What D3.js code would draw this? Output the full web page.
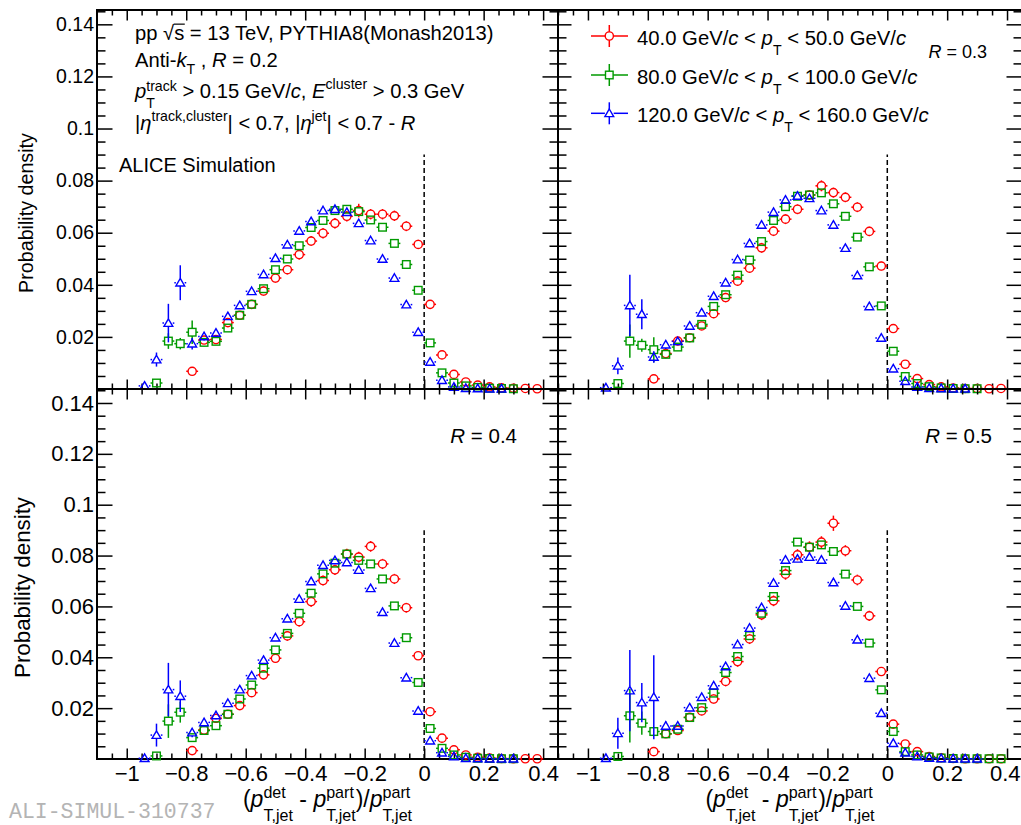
<!DOCTYPE html>
<html>
<head>
<meta charset="utf-8">
<script src="https://cdnjs.cloudflare.com/ajax/libs/d3/7.8.5/d3.min.js"></script>
<style>
  html, body { margin: 0; padding: 0; background: #fff; }
  svg { display: block; }
  text { font-family: "Liberation Sans", Arial, Helvetica, sans-serif; fill: #000; }
  text.fig-id { font-family: "Liberation Mono", "DejaVu Sans Mono", monospace; fill: #b4b4b4; }
</style>
</head>
<body>
<svg id="chart" width="1021" height="825"></svg>
<script>
// ---- binning of (pT,det - pT,part)/pT,part ----
const binCenters = [-0.98,-0.94,-0.90,-0.86,-0.82,-0.78,-0.74,-0.70,-0.66,-0.62,-0.58,-0.54,-0.50,-0.46,-0.42,-0.38,-0.34,-0.30,-0.26,-0.22,-0.18,-0.14,-0.10,-0.06,-0.02,0.02,0.06,0.10,0.14,0.18,0.22,0.26,0.30,0.34,0.38];
const binHalfWidth = 0.02;

// ---- axis ticks ----
const xMajorTicks = [-1, -0.8, -0.6, -0.4, -0.2, 0, 0.2, 0.4];
const xTickLabels = ["\u22121", "\u22120.8", "\u22120.6", "\u22120.4", "\u22120.2", "0", "0.2", "0.4"];
const yMajorTicks = [0.02, 0.04, 0.06, 0.08, 0.1, 0.12, 0.14];
const yTickLabels = ["0.02", "0.04", "0.06", "0.08", "0.1", "0.12", "0.14"];

// ---- probability densities, R = 0.2 ----
const pt40_R02 = [null,null,null,null,null,0.0068,0.0188,0.0190,0.0255,0.0283,0.0325,0.0376,0.0426,0.0458,0.0516,0.0568,0.0598,0.0636,0.0663,0.0685,0.0671,0.0671,0.0665,0.0625,0.0555,0.0325,0.0131,0.0056,0.0027,0.0015,0.0008,0.0005,0.0003,0.0002,0.0001];
const pt80_R02 = [null,null,0.0023,0.0184,0.0174,0.0218,0.0179,0.0183,0.0234,0.0283,0.0325,0.0385,0.0458,0.0499,0.0550,0.0620,0.0647,0.0685,0.0690,0.0681,0.0649,0.0621,0.0559,0.0478,0.0379,0.0177,0.0062,0.0023,0.0012,0.0006,0.0003,0.0002,0.0001,null,null];
const pt120_R02 = [null,0.0012,0.0113,0.0253,0.0408,0.0174,0.0202,0.0215,0.0279,0.0321,0.0375,0.0440,0.0502,0.0554,0.0607,0.0643,0.0685,0.0690,0.0679,0.0636,0.0570,0.0499,0.0426,0.0324,0.0218,0.0104,0.0034,0.0008,0.0003,0.0002,0.0001,0.0001,null,null,null];
const pt40_R02_err = [0,0,0,0,0,0.0012,0.0016,0.0016,0.0016,0.0016,0.0017,0.0018,0.0018,0.0018,0.0019,0.0019,0.0020,0.0020,0.0020,0.0026,0.0020,0.0020,0.0020,0.0019,0.0018,0.0014,0.0009,0.0006,0.0004,0.0003,0.0002,0.0002,0.0001,0.0001,0.0001];
const pt80_R02_err = [0,0,0.0012,0.0030,0.0022,0.0045,0.0016,0.0014,0.0014,0.0013,0.0013,0.0013,0.0013,0.0013,0.0013,0.0013,0.0013,0.0013,0.0013,0.0013,0.0013,0.0013,0.0013,0.0012,0.0011,0.0008,0.0005,0.0003,0.0002,0.0002,0.0001,0.0001,0.0001,0,0];
const pt120_R02_err = [0,0.0008,0.0027,0.0074,0.0067,0.0022,0.0016,0.0015,0.0013,0.0012,0.0012,0.0012,0.0012,0.0012,0.0012,0.0012,0.0012,0.0012,0.0012,0.0012,0.0012,0.0012,0.0011,0.0010,0.0009,0.0006,0.0003,0.0002,0.0001,0.0001,0.0001,0.0001,0,0,0];

// ---- probability densities, R = 0.3 ----
const pt40_R03 = [null,null,null,null,null,0.0039,0.0136,0.0184,0.0197,0.0242,0.0289,0.0351,0.0414,0.0464,0.0542,0.0606,0.0652,0.0690,0.0745,0.0780,0.0754,0.0736,0.0698,0.0605,0.0472,0.0232,0.0095,0.0040,0.0017,0.0008,0.0004,0.0002,0.0002,0.0001,0.0002];
const pt80_R03 = [null,null,0.0021,0.0184,0.0168,0.0151,0.0133,0.0161,0.0196,0.0248,0.0317,0.0362,0.0437,0.0495,0.0566,0.0647,0.0700,0.0740,0.0745,0.0753,0.0711,0.0663,0.0583,0.0469,0.0319,0.0145,0.0048,0.0021,0.0009,0.0004,0.0002,0.0001,0.0001,null,null];
const pt120_R03 = [null,0.0005,0.0089,0.0321,0.0287,0.0123,0.0170,0.0183,0.0242,0.0293,0.0356,0.0408,0.0497,0.0559,0.0630,0.0679,0.0726,0.0741,0.0732,0.0685,0.0630,0.0541,0.0436,0.0317,0.0196,0.0078,0.0030,0.0008,0.0003,0.0002,0.0001,0.0001,null,null,null];
const pt40_R03_err = [0,0,0,0,0,0.0010,0.0016,0.0016,0.0016,0.0016,0.0017,0.0018,0.0018,0.0018,0.0019,0.0019,0.0019,0.0019,0.0019,0.0021,0.0019,0.0019,0.0019,0.0018,0.0017,0.0013,0.0008,0.0005,0.0003,0.0002,0.0002,0.0001,0.0001,0.0001,0.0001];
const pt80_R03_err = [0,0,0.0012,0.0064,0.0025,0.0048,0.0016,0.0014,0.0014,0.0013,0.0013,0.0013,0.0013,0.0013,0.0013,0.0013,0.0013,0.0013,0.0013,0.0013,0.0013,0.0013,0.0013,0.0012,0.0011,0.0008,0.0005,0.0003,0.0002,0.0002,0.0001,0.0001,0.0001,0,0];
const pt120_R03_err = [0,0.0005,0.0032,0.0118,0.0058,0.0022,0.0016,0.0015,0.0013,0.0012,0.0012,0.0012,0.0012,0.0012,0.0012,0.0012,0.0012,0.0012,0.0012,0.0012,0.0012,0.0012,0.0011,0.0010,0.0009,0.0006,0.0003,0.0002,0.0001,0.0001,0.0001,0.0001,0,0,0];

// ---- probability densities, R = 0.4 ----
const pt40_R04 = [null,null,null,null,null,0.0033,0.0114,0.0160,0.0176,0.0210,0.0261,0.0331,0.0396,0.0484,0.0540,0.0619,0.0702,0.0744,0.0806,0.0794,0.0836,0.0767,0.0708,0.0595,0.0406,0.0186,0.0082,0.0036,0.0016,0.0007,0.0004,0.0002,0.0001,0.0001,0.0001];
const pt80_R04 = [null,null,0.0012,0.0149,0.0184,0.0084,0.0112,0.0131,0.0176,0.0236,0.0291,0.0357,0.0429,0.0494,0.0573,0.0652,0.0728,0.0770,0.0806,0.0781,0.0767,0.0708,0.0602,0.0477,0.0301,0.0120,0.0042,0.0016,0.0007,0.0003,0.0002,0.0001,0.0001,null,null];
const pt120_R04 = [null,0.0003,0.0094,0.0273,0.0247,0.0104,0.0144,0.0171,0.0219,0.0273,0.0328,0.0389,0.0477,0.0552,0.0629,0.0698,0.0762,0.0781,0.0773,0.0743,0.0671,0.0577,0.0456,0.0320,0.0189,0.0072,0.0025,0.0010,0.0003,0.0002,0.0001,0.0001,0.0001,null,null];
const pt40_R04_err = [0,0,0,0,0,0.0010,0.0015,0.0016,0.0016,0.0016,0.0017,0.0018,0.0018,0.0019,0.0019,0.0020,0.0020,0.0020,0.0021,0.0021,0.0021,0.0020,0.0020,0.0019,0.0017,0.0012,0.0008,0.0005,0.0003,0.0002,0.0002,0.0001,0.0001,0.0001,0.0001];
const pt80_R04_err = [0,0,0.0008,0.0066,0.0041,0.0016,0.0014,0.0014,0.0013,0.0013,0.0013,0.0013,0.0013,0.0013,0.0013,0.0013,0.0013,0.0013,0.0013,0.0013,0.0013,0.0013,0.0013,0.0012,0.0011,0.0007,0.0004,0.0003,0.0002,0.0001,0.0001,0.0001,0.0001,0,0];
const pt120_R04_err = [0,0.0003,0.0045,0.0105,0.0062,0.0018,0.0016,0.0015,0.0013,0.0012,0.0012,0.0012,0.0012,0.0012,0.0012,0.0012,0.0012,0.0012,0.0012,0.0012,0.0012,0.0012,0.0011,0.0010,0.0008,0.0005,0.0003,0.0002,0.0001,0.0001,0.0001,0.0001,0.0001,0,0];

// ---- probability densities, R = 0.5 ----
const pt40_R05 = [null,null,null,null,null,0.0029,0.0099,0.0112,0.0164,0.0189,0.0236,0.0305,0.0383,0.0472,0.0567,0.0622,0.0727,0.0803,0.0833,0.0853,0.0927,0.0819,0.0704,0.0563,0.0344,0.0137,0.0059,0.0029,0.0010,0.0005,0.0002,0.0001,0.0001,0.0001,0.0001];
const pt80_R05 = [null,null,0.0010,0.0170,0.0141,0.0108,0.0099,0.0117,0.0163,0.0202,0.0259,0.0340,0.0403,0.0485,0.0573,0.0639,0.0741,0.0853,0.0833,0.0842,0.0816,0.0727,0.0600,0.0456,0.0272,0.0108,0.0029,0.0016,0.0008,0.0004,0.0002,0.0001,0.0001,0.0001,0.0001];
const pt120_R05 = [null,0.0003,0.0101,0.0269,0.0222,0.0243,0.0130,0.0130,0.0202,0.0243,0.0288,0.0364,0.0450,0.0515,0.0596,0.0692,0.0783,0.0787,0.0794,0.0783,0.0694,0.0602,0.0469,0.0318,0.0180,0.0062,0.0025,0.0010,0.0004,0.0002,0.0001,0.0001,0.0001,null,null];
const pt40_R05_err = [0,0,0,0,0,0.0010,0.0016,0.0016,0.0017,0.0017,0.0018,0.0019,0.0020,0.0020,0.0021,0.0021,0.0022,0.0022,0.0023,0.0023,0.0030,0.0022,0.0021,0.0020,0.0017,0.0012,0.0008,0.0005,0.0003,0.0002,0.0001,0.0001,0.0001,0.0001,0.0001];
const pt80_R05_err = [0,0,0.0008,0.0105,0.0046,0.0018,0.0015,0.0014,0.0014,0.0013,0.0013,0.0013,0.0013,0.0013,0.0013,0.0013,0.0014,0.0014,0.0014,0.0014,0.0014,0.0013,0.0013,0.0012,0.0010,0.0007,0.0004,0.0003,0.0002,0.0001,0.0001,0.0001,0.0001,0.0001,0.0001];
const pt120_R05_err = [0,0.0003,0.0061,0.0160,0.0077,0.0165,0.0018,0.0016,0.0014,0.0013,0.0013,0.0013,0.0013,0.0013,0.0013,0.0013,0.0013,0.0013,0.0013,0.0013,0.0013,0.0012,0.0012,0.0011,0.0009,0.0006,0.0003,0.0002,0.0001,0.0001,0.0001,0.0001,0.0001,0,0];

// ---- series styles (jet pT intervals) ----
const seriesColors = ["#ff0000", "#009a00", "#0000ff"];
const seriesShapes = ["circle", "square", "triangle"];
const jetPtLow = ["40.0", "80.0", "120.0"];
const jetPtHigh = ["50.0", "100.0", "160.0"];

// ---- layout ----
const W = 1021, H = 825;
const xDomain = [-1.1, 0.45];
const yDomain = [0, 0.1455];
const panels = [
  { R: "0.2", vals: [pt40_R02, pt80_R02, pt120_R02], errs: [pt40_R02_err, pt80_R02_err, pt120_R02_err],
    x0: 97, x1: 558, y0: 10, y1: 389, yLab: true, xLab: false, fs: 19.5 },
  { R: "0.3", vals: [pt40_R03, pt80_R03, pt120_R03], errs: [pt40_R03_err, pt80_R03_err, pt120_R03_err],
    x0: 558, x1: 1022, y0: 10, y1: 389, yLab: false, xLab: false, fs: 19.5 },
  { R: "0.4", vals: [pt40_R04, pt80_R04, pt120_R04], errs: [pt40_R04_err, pt80_R04_err, pt120_R04_err],
    x0: 97, x1: 558, y0: 389, y1: 759, yLab: true, xLab: true, fs: 22 },
  { R: "0.5", vals: [pt40_R05, pt80_R05, pt120_R05], errs: [pt40_R05_err, pt80_R05_err, pt120_R05_err],
    x0: 558, x1: 1022, y0: 389, y1: 759, yLab: false, xLab: true, fs: 22 }
];

const svg = d3.select("#chart");
svg.append("rect").attr("width", W).attr("height", H).attr("fill", "#fff");

// Rich text: tokens laid out left to right; {stack:[...]} puts sub/superscripts on the same x.
function richText(parent, x, y, tokens, size, anchor) {
  const g = parent.append("g");
  let cx = 0;
  const put = (tk, px) => {
    const fs = size * (tk.sc || 1);
    const t = g.append("text")
      .attr("x", px).attr("y", (tk.dy || 0) * size)
      .attr("font-size", fs)
      .style("white-space", "pre")
      .text(tk.t);
    if (tk.it) t.attr("font-style", "italic");
    const w = t.node().getComputedTextLength();
    if (tk.over) {
      g.append("line").attr("x1", px - 0.5).attr("x2", px + w + 0.5)
        .attr("y1", -0.76 * size).attr("y2", -0.76 * size)
        .attr("stroke", "#000").attr("stroke-width", 1.2);
    }
    return w;
  };
  tokens.forEach(tk => {
    if (tk.stack) cx += d3.max(tk.stack.map(s => put(s, cx)));
    else cx += put(tk, cx);
  });
  const shift = anchor === "middle" ? -cx / 2 : anchor === "end" ? -cx : 0;
  g.attr("transform", `translate(${x + shift},${y})`);
  return g;
}

// Open markers: circle, square, triangle
function drawMarker(g, shape, color, cx, cy) {
  if (shape === "circle") {
    g.append("circle").attr("cx", cx).attr("cy", cy).attr("r", 4.1)
      .attr("fill", "none").attr("stroke", color).attr("stroke-width", 1.4);
  } else if (shape === "square") {
    g.append("rect").attr("x", cx - 3.8).attr("y", cy - 3.8).attr("width", 7.6).attr("height", 7.6)
      .attr("fill", "none").attr("stroke", color).attr("stroke-width", 1.4);
  } else {
    g.append("path").attr("d", `M${cx},${cy - 4.3}L${cx + 4.4},${cy + 3.3}L${cx - 4.4},${cy + 3.3}Z`)
      .attr("fill", "none").attr("stroke", color).attr("stroke-width", 1.4);
  }
}
// half extents of each marker: [horizontal, up, down]
const markerHalf = { circle: [4.1, 4.1, 4.1], square: [3.8, 3.8, 3.8], triangle: [4.4, 4.3, 3.3] };

const minorX = d3.range(-1.05, 0.451, 0.05).map(v => +v.toFixed(3))
  .filter(v => !xMajorTicks.some(m => Math.abs(m - v) < 1e-6));
const minorY = d3.range(0.005, 0.1451, 0.005).map(v => +v.toFixed(4))
  .filter(v => !yMajorTicks.some(m => Math.abs(m - v) < 1e-6));

function styleAxis(sel) {
  sel.select(".domain").remove();
  sel.selectAll(".tick line").attr("stroke", "#000").attr("stroke-width", 1.5);
}

panels.forEach((p, pi) => {
  const x = d3.scaleLinear().domain(xDomain).range([p.x0, p.x1]);
  const y = d3.scaleLinear().domain(yDomain).range([p.y1, p.y0]);
  const g = svg.append("g");
  const top = p.y0 < 100;
  const left = p.x0 < 300;

  const yLabelFmt = v => yTickLabels[yMajorTicks.findIndex(m => Math.abs(m - v) < 1e-9)];
  const xLabelFmt = v => xTickLabels[xMajorTicks.findIndex(m => Math.abs(m - v) < 1e-9)];

  // left axis
  const lMaj = left ? -15.5 : -13.5;
  g.append("g").attr("transform", `translate(${p.x0},0)`)
    .call(d3.axisLeft(y).tickValues(minorY).tickSize(-8.5).tickFormat(""))
    .call(styleAxis);
  const la = g.append("g").attr("transform", `translate(${p.x0},0)`)
    .call(d3.axisLeft(y).tickValues(yMajorTicks).tickSize(lMaj).tickPadding(3)
      .tickFormat(p.yLab ? yLabelFmt : ""))
    .call(styleAxis);
  la.selectAll(".tick text").attr("font-size", p.fs).attr("font-family", null).attr("fill", "#000");

  // right axis
  g.append("g").attr("transform", `translate(${p.x1},0)`)
    .call(d3.axisRight(y).tickValues(minorY).tickSize(-8.5).tickFormat(""))
    .call(styleAxis);
  g.append("g").attr("transform", `translate(${p.x1},0)`)
    .call(d3.axisRight(y).tickValues(yMajorTicks).tickSize(-15.5).tickFormat(""))
    .call(styleAxis);

  // bottom axis
  g.append("g").attr("transform", `translate(0,${p.y1})`)
    .call(d3.axisBottom(x).tickValues(minorX).tickSize(-5.5).tickFormat(""))
    .call(styleAxis);
  const ba = g.append("g").attr("transform", `translate(0,${p.y1})`)
    .call(d3.axisBottom(x).tickValues(xMajorTicks).tickSize(top ? -9.5 : -10.5).tickPadding(6.5)
      .tickFormat(p.xLab ? xLabelFmt : ""))
    .call(styleAxis);
  ba.selectAll(".tick text").attr("font-size", p.fs).attr("font-family", null).attr("fill", "#000");
  // keep the last label inside the canvas when its tick sits near the right edge
  ba.selectAll(".tick text").each(function () {
    const bb = this.getBBox();
    const tx = x(d3.select(this.parentNode).datum());
    if (tx + bb.width / 2 > W - 1) d3.select(this).attr("text-anchor", "end").attr("x", W - 1 - tx);
  });

  // top axis
  g.append("g").attr("transform", `translate(0,${p.y0})`)
    .call(d3.axisTop(x).tickValues(minorX).tickSize(-5.5).tickFormat(""))
    .call(styleAxis);
  g.append("g").attr("transform", `translate(0,${p.y0})`)
    .call(d3.axisTop(x).tickValues(xMajorTicks).tickSize(-10.5).tickFormat(""))
    .call(styleAxis);

  // frame
  g.append("rect").attr("x", p.x0).attr("y", p.y0)
    .attr("width", p.x1 - p.x0).attr("height", p.y1 - p.y0)
    .attr("fill", "none").attr("stroke", "#000").attr("stroke-width", 2);

  // reference line at zero
  g.append("line").attr("x1", x(0)).attr("x2", x(0))
    .attr("y1", y(0)).attr("y2", y(0.09))
    .attr("stroke", "#000").attr("stroke-width", 1.5).attr("stroke-dasharray", "5,3");

  // data points with error bars
  p.vals.forEach((vals, si) => {
    const color = seriesColors[si], shape = seriesShapes[si];
    const [hx, ht, hb] = markerHalf[shape];
    const sg = g.append("g");
    const pts = binCenters.map((c, i) => ({ c, v: vals[i], e: p.errs[si][i] })).filter(d => d.v != null);
    pts.forEach(d => {
      const px = x(d.c), py = y(d.v);
      const xl = x(d.c - binHalfWidth), xr = x(d.c + binHalfWidth);
      const yt = y(d.v + d.e), yb = y(d.v - d.e);
      const seg = (x1, y1, x2, y2) => sg.append("line").attr("x1", x1).attr("y1", y1).attr("x2", x2).attr("y2", y2)
        .attr("stroke", color).attr("stroke-width", 1.5);
      if (xl < px - hx) seg(xl, py, px - hx, py);
      if (xr > px + hx) seg(px + hx, py, xr, py);
      if (yt < py - ht) seg(px, yt, px, py - ht);
      if (yb > py + hb) seg(px, py + hb, px, yb);
      drawMarker(sg, shape, color, px, py);
    });
  });

  // jet radius label
  const rTokens = [{ t: "R", it: true }, { t: " = " + p.R }];
  if (pi === 1) richText(g, 987, 58, rTokens, 18, "end");
  else if (pi === 2) richText(g, 517, 443, rTokens, 20.5, "end");
  else if (pi === 3) richText(g, 992, 443, rTokens, 20.5, "end");

  // x-axis title
  if (p.xLab) {
    const pp = (sup) => [{ t: "p", it: true }, { stack: [{ t: sup, sc: 0.7, dy: -0.38 }, { t: "T,jet", sc: 0.7, dy: 0.6 }] }];
    richText(svg, (p.x0 + p.x1) / 2, 807,
      [{ t: "(" }, ...pp("det"), { t: " - " }, ...pp("part"), { t: ")/" }, ...pp("part")], 23, "middle");
  }
  // y-axis title
  if (left) {
    const cy = top ? 213 : 587.5;
    const tx = top ? 33 : 30;
    svg.append("text").attr("transform", `translate(${tx},${cy}) rotate(-90)`)
      .attr("text-anchor", "middle").attr("font-size", top ? 19.7 : 22.3)
      .text("Probability density");
  }
});

// ---- header text in the R = 0.2 panel ----
const hdr = svg.append("g");
const hs = 20.2;
richText(hdr, 135, 39.5, [{ t: "pp " }, { t: "\u221A" }, { t: "s", over: true }, { t: " = 13 TeV, PYTHIA8(Monash2013)" }], hs);
richText(hdr, 135, 66.7, [{ t: "Anti-" }, { t: "k", it: true }, { t: "T", sc: 0.7, dy: 0.38 }, { t: " , " }, { t: "R", it: true }, { t: " = 0.2" }], hs);
richText(hdr, 135, 98.3, [{ t: "p", it: true }, { stack: [{ t: "track", sc: 0.7, dy: -0.38 }, { t: "T", sc: 0.7, dy: 0.5 }] },
  { t: " > 0.15 GeV/" }, { t: "c", it: true }, { t: ", " }, { t: "E", it: true }, { t: "cluster", sc: 0.7, dy: -0.45 }, { t: " > 0.3 GeV" }], hs);
richText(hdr, 135, 130, [{ t: "|" }, { t: "\u03B7", it: true }, { t: "track,cluster", sc: 0.7, dy: -0.47 }, { t: "| < 0.7, |" },
  { t: "\u03B7", it: true }, { t: "jet", sc: 0.7, dy: -0.47 }, { t: "| < 0.7 - " }, { t: "R", it: true }], hs);
richText(hdr, 119, 171.5, [{ t: "ALICE Simulation" }], 20);

// ---- legend ----
const leg = svg.append("g");
const legRows = [36, 75, 113.3];
seriesColors.forEach((color, i) => {
  const cy = legRows[i], cx = 609.3;
  const [hx, ht, hb] = markerHalf[seriesShapes[i]];
  const seg = (x1, y1, x2, y2) => leg.append("line").attr("x1", x1).attr("y1", y1).attr("x2", x2).attr("y2", y2)
    .attr("stroke", color).attr("stroke-width", 1.5);
  seg(591, cy, cx - hx, cy);
  seg(cx + hx, cy, 628, cy);
  seg(cx, cy - 11, cx, cy - ht);
  seg(cx, cy + hb, cx, cy + 11);
  drawMarker(leg, seriesShapes[i], color, cx, cy);
  richText(leg, 637, cy + 8.7, [{ t: jetPtLow[i] + " GeV/" }, { t: "c", it: true }, { t: " < " }, { t: "p", it: true },
    { t: "T", sc: 0.7, dy: 0.5 }, { t: " < " + jetPtHigh[i] + " GeV/" }, { t: "c", it: true }], 20.3);
});

// ---- figure identifier ----
svg.append("text").attr("class", "fig-id").attr("x", 9).attr("y", 818)
  .attr("font-size", 21.5)
  .text("ALI-SIMUL-310737");
</script>
</body>
</html>
